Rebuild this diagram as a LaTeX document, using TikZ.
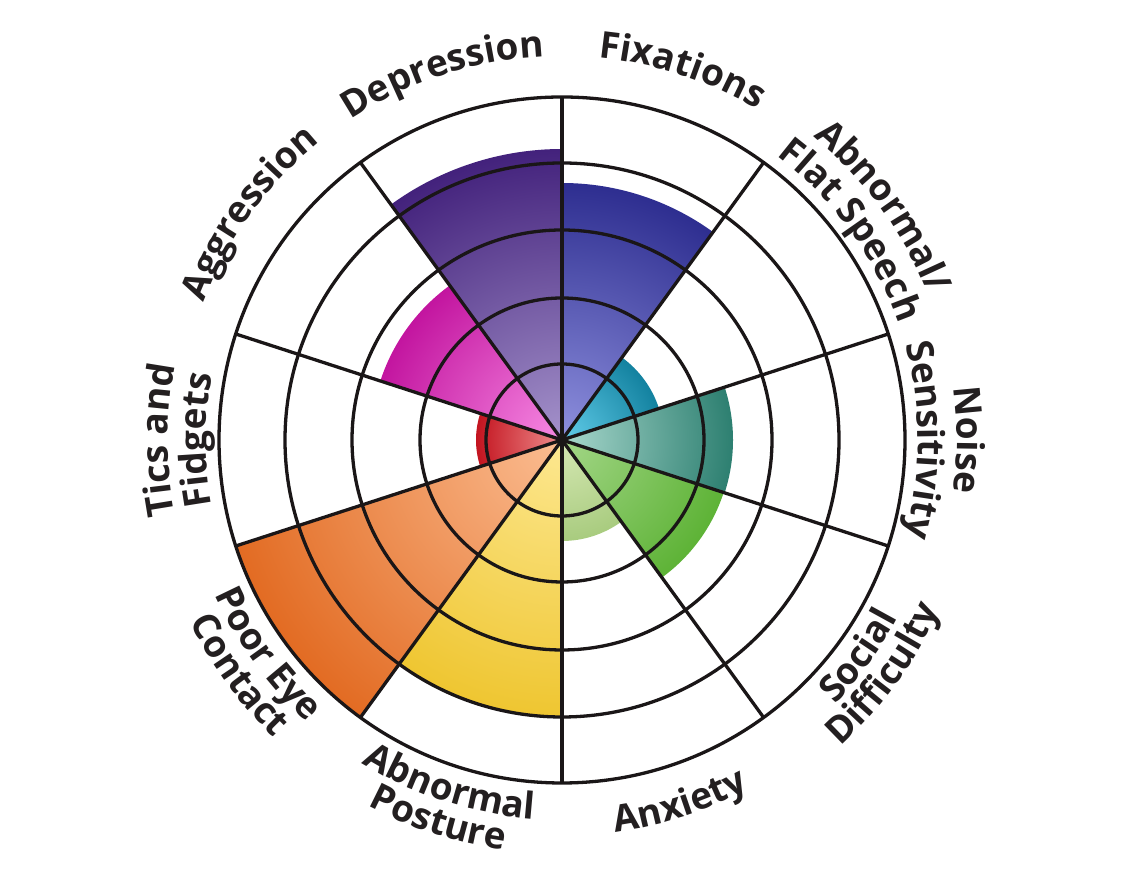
\documentclass[tikz,border=0pt]{standalone}
\usepackage{fontspec}
\setmainfont{Open Sans}
\usetikzlibrary{decorations.text}

\definecolor{lineblk}{HTML}{1A1617}
\definecolor{txtblk}{HTML}{231F20}
\definecolor{depI}{HTML}{A593CB}\definecolor{depO}{HTML}{3E1C78}
\definecolor{fixI}{HTML}{8E90DE}\definecolor{fixO}{HTML}{29298C}
\definecolor{flsI}{HTML}{62CDEA}\definecolor{flsO}{HTML}{0F7E9C}
\definecolor{noiI}{HTML}{A9D8CD}\definecolor{noiO}{HTML}{277B6C}
\definecolor{socI}{HTML}{A3D687}\definecolor{socO}{HTML}{5AB132}
\definecolor{anxI}{HTML}{D6E8B4}\definecolor{anxO}{HTML}{A6CA7C}
\definecolor{posI}{HTML}{FDE891}\definecolor{posO}{HTML}{EEC42C}
\definecolor{eyeI}{HTML}{FBBD92}\definecolor{eyeO}{HTML}{E1671D}
\definecolor{ticI}{HTML}{EF8E8E}\definecolor{ticO}{HTML}{C10E1A}
\definecolor{aggI}{HTML}{F78AE3}\definecolor{aggO}{HTML}{C00F9C}

\newcommand\labfont{\fontsize{37}{42}\selectfont\bfseries\color{txtblk}}
% clockwise label (letter tops point outward)
\newcommand\labcw[3]{%
  \path[decorate, decoration={text along path, text align=center,
     text={|\labfont|#3}}]
     ([shift={(#2+40:#1)}]O) arc[start angle=#2+40, end angle=#2-40, radius=#1];}
% counter-clockwise label (letter tops point inward)
\newcommand\labccw[3]{%
  \path[decorate, decoration={text along path, text align=center,
     text={|\labfont|#3}}]
     ([shift={(#2-40:#1)}]O) arc[start angle=#2-40, end angle=#2+40, radius=#1];}

\begin{document}
\begin{tikzpicture}[x=1pt,y=1pt,
  gridline/.style={draw=lineblk, line width=3.3pt}]
\useasboundingbox (0,0) rectangle (1125,885);
\coordinate (O) at (562,445);

% shaded sectors
\foreach \a/\r/\ci/\co in {90/291/depI/depO, 54/257/fixI/fixO, 18/102/flsI/flsO,
  -18/171/noiI/noiO, -54/170/socI/socO, -90/101/anxI/anxO, -126/277/posI/posO,
  -162/343/eyeI/eyeO, 162/86/ticI/ticO, 126/191/aggI/aggO}{
  \begin{scope}
    \clip (O) -- ([shift={(\a:\r)}]O) arc[start angle=\a, end angle=\a+36, radius=\r] -- cycle;
    \shade[inner color=\ci, outer color=\co] (O) circle[radius=1.05*\r];
  \end{scope}
}

% rings
\foreach \r in {76,142,210,277,343}{
  \draw[gridline] (O) circle[radius=\r];
}
% spokes
\foreach \a in {90,126,162,198,234,270,306,342,18,54}{
  \draw[gridline] (O) -- ([shift={(\a:343)}]O);
}

% labels
\labcw{384}{108}{Depression}
\labcw{384}{72}{Fixations}
\labcw{394}{36}{Abnormal/}
\labcw{356}{36}{Flat Speech}
\labcw{395}{0}{Noise}
\labcw{356}{0}{Sensitivity}
\labccw{380}{324}{Social}
\labccw{414}{324}{Difficulty}
\labccw{396}{288}{Anxiety}
\labccw{380}{252}{Abnormal}
\labccw{414}{252}{Posture}
\labccw{380}{216}{Poor Eye}
\labccw{414}{216}{Contact}
\labcw{394}{180}{Tics and}
\labcw{356}{180}{Fidgets}
\labcw{384}{144}{Aggression}
\end{tikzpicture}
\end{document}
